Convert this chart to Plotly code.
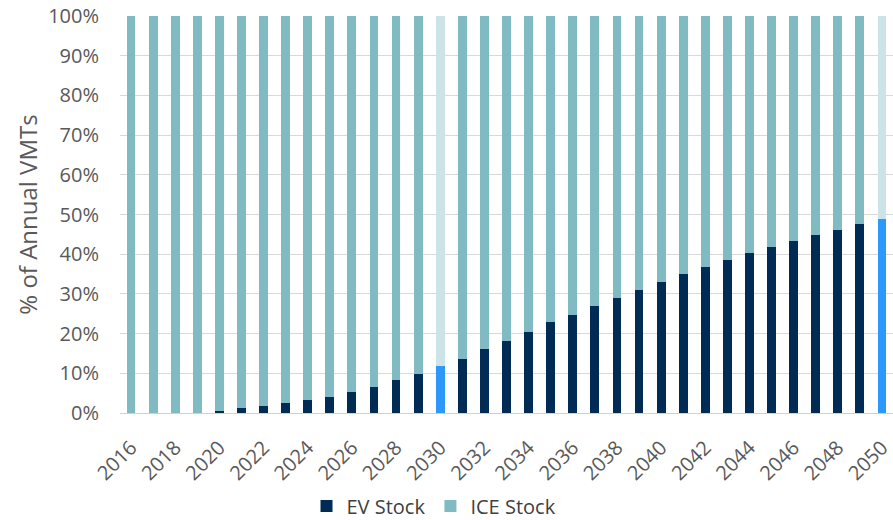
import plotly.graph_objects as go

# Data
years = [str(y) for y in range(2016, 2051)]
ev_stock = [0.0, 0.0, 0.0, 0.0, 0.6, 1.2, 1.8, 2.5, 3.2, 4.1,
            5.4, 6.6, 8.3, 9.9, 11.8, 13.7, 16.0, 18.2, 20.5, 22.8,
            24.7, 26.9, 29.0, 31.1, 33.1, 35.0, 36.9, 38.5, 40.2, 41.8,
            43.3, 44.9, 46.2, 47.5, 48.8]
ice_stock = [round(100 - v, 1) for v in ev_stock]
highlight_years = ['2030', '2050']
tick_years = [str(y) for y in range(2016, 2051, 2)]

# colours, highlighted years get a different shade
ev_colors = ['#2E98FA' if y in highlight_years else '#002B55' for y in years]
ice_colors = ['#CCE3E8' if y in highlight_years else '#80BAC3' for y in years]

font_family = 'Open Sans, Noto Sans, sans-serif'

fig = go.Figure()

fig.add_trace(go.Bar(
    x=years,
    y=ev_stock,
    name='EV Stock',
    marker=dict(color=ev_colors, line=dict(width=0)),
))

fig.add_trace(go.Bar(
    x=years,
    y=ice_stock,
    name='ICE Stock',
    marker=dict(color=ice_colors, line=dict(width=0)),
))

fig.update_layout(
    barmode='stack',
    bargap=0.6,
    width=893,
    height=520,
    margin=dict(l=120, r=0, t=16, b=107),
    plot_bgcolor='white',
    paper_bgcolor='white',
    font=dict(family=font_family, size=20, color='#595959'),
    xaxis=dict(
        type='category',
        tickmode='array',
        tickvals=tick_years,
        ticktext=tick_years,
        tickangle=-45,
        showgrid=False,
        showline=True,
        linecolor='#D0D0D0',
        linewidth=1,
        ticks='',
        automargin=False,
        ticklabelstandoff=14,
        ticklabeloverflow='allow',
        tickfont=dict(size=20, color='#595959'),
    ),
    yaxis=dict(
        range=[0, 100],
        dtick=10,
        ticksuffix='%',
        showgrid=True,
        gridcolor='#D9D9D9',
        gridwidth=1,
        zeroline=False,
        showline=False,
        ticks='',
        automargin=False,
        ticklabelstandoff=20,
        ticklabeloverflow='allow',
        tickfont=dict(size=20, color='#595959'),
        title=dict(text='% of Annual VMTs', font=dict(size=24, color='#595959'), standoff=3),
    ),
    legend=dict(
        orientation='h',
        xref='container',
        yref='container',
        x=0.486,
        xanchor='center',
        y=0.027,
        yanchor='middle',
        font=dict(size=20, color='#404040'),
        traceorder='normal',
    ),
)

# drop the default body margin so the figure fills the window, hide the modebar
fig.write_html("out.html", config={'displayModeBar': False},
               post_script="document.body.style.margin='0';")
